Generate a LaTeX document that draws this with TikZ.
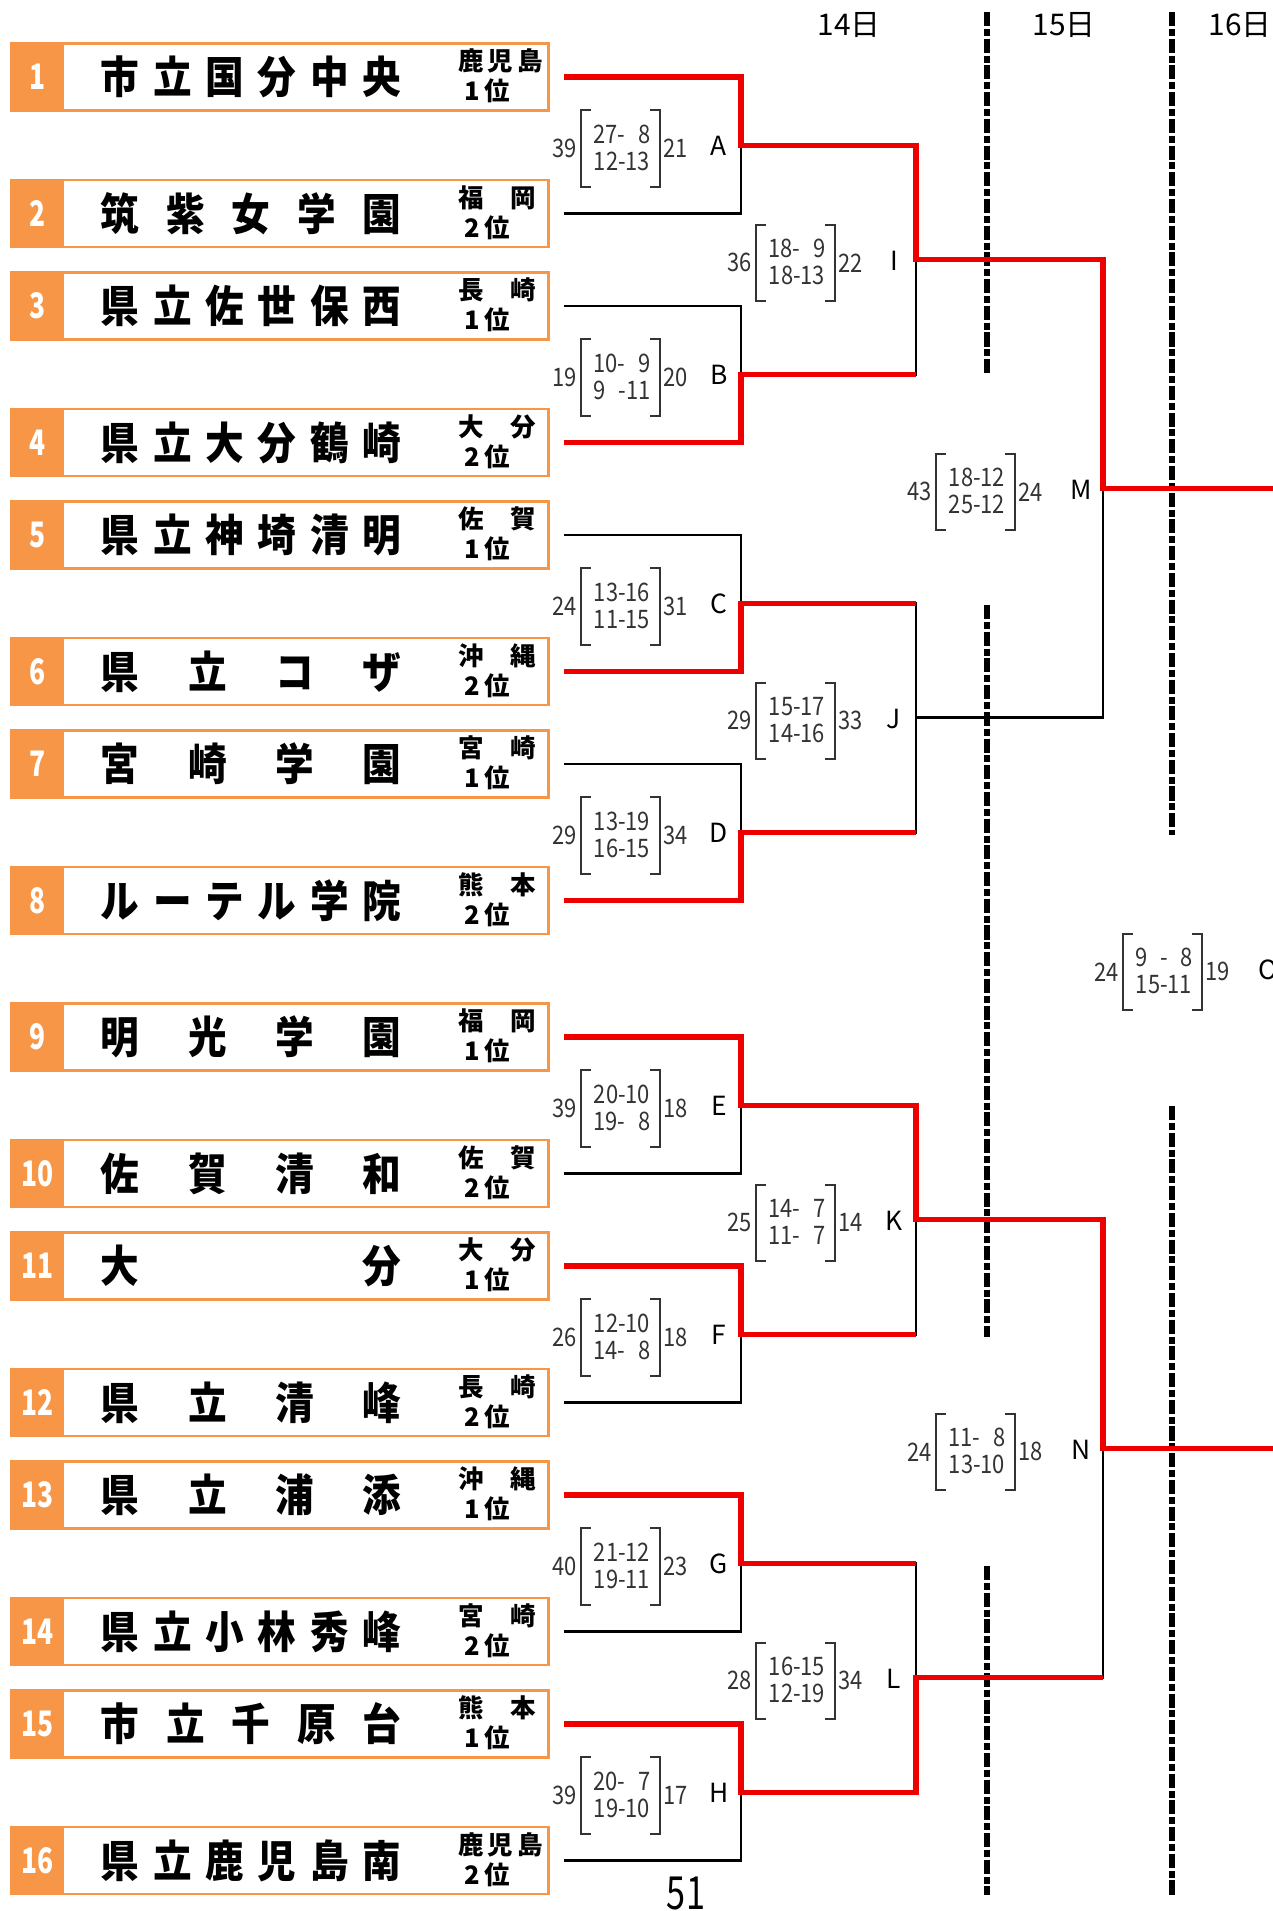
\documentclass[tikz,border=0pt]{standalone}
\usepackage{fontspec}
\usetikzlibrary{positioning}
\newfontfamily\jp{Noto Sans CJK JP}
\newfontfamily\jpname{Noto Sans CJK JP}[FakeStretch=0.88]
\newfontfamily\jpnum{Noto Sans CJK JP}[FakeStretch=0.75]
\newfontfamily\jpscore{Noto Sans CJK JP}[FakeStretch=0.86]
\definecolor{seedorange}{HTML}{F79646}
\definecolor{winred}{HTML}{EE0000}
\definecolor{scoregray}{HTML}{333333}

\newcommand\result[5]{%
  \node[sc] (#1s) at ([shift={(-119-#2,2.5)}]m#1) {#4};
  \draw[brk] ([shift={(-150-#2,-35)}]m#1) -- ++(-10,0) -- ++(0,76.5) -- ++(10,0);
  \draw[brk] ([shift={(-91-#2,-35)}]m#1) -- ++(10,0) -- ++(0,76.5) -- ++(-10,0);
  \node[sc, anchor=east] (#1l) at ([shift={(-164-#2,3)}]m#1) {#3};
  \node[sc, anchor=west] (#1r) at ([shift={(-78-#2,3)}]m#1) {#5};
  \node[lett] (#1) at ([shift={(-22,1)}]m#1) {#1};
}

\begin{document}
\begin{tikzpicture}[x=0.02cm, y=-0.02cm,
    teambox/.style={draw=seedorange, line width=1.53pt, fill=white, minimum width=305.7pt, minimum height=38.15pt, inner sep=0pt},
    numbox/.style={fill=seedorange, minimum width=30.4pt, minimum height=38.15pt, inner sep=0pt, text=white, font=\jpnum\bfseries\fontsize{20}{20}\selectfont},
    school/.style={anchor=west, inner sep=0pt, font=\jpname\bfseries\fontsize{25}{25}\selectfont},
    pref/.style={inner sep=0pt, font=\jp\bfseries\fontsize{14.5}{14.5}\selectfont},
    line/.style={line width=1.5pt, black},
    win/.style={line width=3.1pt, winred},
    daysep/.style={line width=3pt, dash pattern=on 8pt off 1.6pt on 4pt off 1.6pt},
    sc/.style={inner sep=0pt, text=scoregray, align=center, font=\jpscore\fontsize{14.5}{15.5}\selectfont},
    brk/.style={line width=1.2pt, scoregray},
    lett/.style={inner sep=0pt, font=\jp\fontsize{15}{15}\selectfont},
    day/.style={inner sep=0pt, font=\jp\fontsize{17}{17}\selectfont}
  ]
  \useasboundingbox (0,0) rectangle (1272,1911);

  \node[day] (d14) at (849,25) {14日};
  \node[day] (d15) at (1064,25) {15日};
  \node[day] (d16) at (1240,25) {16日};

  \draw[daysep] (987,12) -- (987,374);
  \draw[daysep] (987,605) -- (987,1337);
  \draw[daysep] (987,1566) -- (987,1895);
  \draw[daysep] (1172,12) -- (1172,835);
  \draw[daysep] (1172,1106) -- (1172,1895);

  \foreach \i/\y/\nm/\pf/\rk in {
      1/77/{市 立 国 分 中 央}/{鹿 児 島}/1,
      2/213.5/{筑 紫 女 学 園}/{福 岡}/2,
      3/306/{県 立 佐 世 保 西}/{長 崎}/1,
      4/442.5/{県 立 大 分 鶴 崎}/{大 分}/2,
      5/535/{県 立 神 埼 清 明}/{佐 賀}/1,
      6/671.5/{県 立 コ ザ}/{沖 縄}/2,
      7/764/{宮 崎 学 園}/{宮 崎}/1,
      8/900.5/{ル ー テ ル 学 院}/{熊 本}/2,
      9/1037/{明 光 学 園}/{福 岡}/1,
      10/1173.5/{佐 賀 清 和}/{佐 賀}/2,
      11/1266/{大 分}/{大 分}/1,
      12/1402.5/{県 立 清 峰}/{長 崎}/2,
      13/1495/{県 立 浦 添}/{沖 縄}/1,
      14/1631.5/{県 立 小 林 秀 峰}/{宮 崎}/2,
      15/1724/{市 立 千 原 台}/{熊 本}/1,
      16/1860.5/{県 立 鹿 児 島 南}/{鹿 児 島}/2}{
    \node[teambox] (t\i) at (280,\y) {};
    \node[numbox, anchor=west] (n\i) at (t\i.west) {\i};
    \node[school] (nm\i) at (100.5,\y) {\makebox[171pt][s]{\nm}};
    \node[pref] (p\i) at (497,\y-16) {\makebox[44pt][s]{\pf}};
    \node[pref] (r\i) at (487,\y+14) {\rk\,位};
    \coordinate (s\i) at (564,\y);
  }

  \coordinate (mA) at (741,145.25);
  \coordinate (mB) at (741,374.25);
  \coordinate (mC) at (741,603.25);
  \coordinate (mD) at (741,832.25);
  \coordinate (mE) at (741,1105.25);
  \coordinate (mF) at (741,1334.25);
  \coordinate (mG) at (741,1563.25);
  \coordinate (mH) at (741,1792.25);
  \coordinate (mI) at (916,259.75);
  \coordinate (mJ) at (916,717.75);
  \coordinate (mK) at (916,1219.75);
  \coordinate (mL) at (916,1677.75);
  \coordinate (mM) at (1103,488.75);
  \coordinate (mN) at (1103,1448.75);
  \coordinate (mO) at (1290,968.75);

  \draw[line] (s1) -| (mA) |- (s2);
  \draw[line] (s3) -| (mB) |- (s4);
  \draw[line] (s5) -| (mC) |- (s6);
  \draw[line] (s7) -| (mD) |- (s8);
  \draw[line] (s9) -| (mE) |- (s10);
  \draw[line] (s11) -| (mF) |- (s12);
  \draw[line] (s13) -| (mG) |- (s14);
  \draw[line] (s15) -| (mH) |- (s16);
  \draw[line] (mA) -| (mI) |- (mB);
  \draw[line] (mC) -| (mJ) |- (mD);
  \draw[line] (mE) -| (mK) |- (mF);
  \draw[line] (mG) -| (mL) |- (mH);
  \draw[line] (mI) -| (mM) |- (mJ);
  \draw[line] (mK) -| (mN) |- (mL);
  \draw[line] (mM) -| (mO) |- (mN);

  \draw[win] (s1) -| (mA) -| (mI) -| (mM) -- (mM -| mO);
  \draw[win] (s4) -| (mB) -- (mB -| mI);
  \draw[win] (s6) -| (mC) -- (mC -| mJ);
  \draw[win] (s8) -| (mD) -- (mD -| mJ);
  \draw[win] (s9) -| (mE) -| (mK) -| (mN) -- (mN -| mO);
  \draw[win] (s11) -| (mF) -- (mF -| mK);
  \draw[win] (s13) -| (mG) -- (mG -| mL);
  \draw[win] (s15) -| (mH) -| (mL) -- (mL -| mN);

  \result{A}{0}{39}{27-\enspace8\\12-13}{21}
  \result{B}{0}{19}{10-\enspace9\\9\enspace-11}{20}
  \result{C}{0}{24}{13-16\\11-15}{31}
  \result{D}{0}{29}{13-19\\16-15}{34}
  \result{E}{0}{39}{20-10\\19-\enspace8}{18}
  \result{F}{0}{26}{12-10\\14-\enspace8}{18}
  \result{G}{0}{40}{21-12\\19-11}{23}
  \result{H}{0}{39}{20-\enspace7\\19-10}{17}
  \result{I}{0}{36}{18-\enspace9\\18-13}{22}
  \result{J}{0}{29}{15-17\\14-16}{33}
  \result{K}{0}{25}{14-\enspace7\\11-\enspace7}{14}
  \result{L}{0}{28}{16-15\\12-19}{34}
  \result{M}{7}{43}{18-12\\25-12}{24}
  \result{N}{7}{24}{11-\enspace8\\13-10}{18}
  \result{O}{7}{24}{9\enspace-\enspace8\\15-11}{19}

  \node[inner sep=0pt, font=\jpnum\fontsize{26}{26}\selectfont] (pg) at (686,1893) {51};
\end{tikzpicture}
\end{document}
